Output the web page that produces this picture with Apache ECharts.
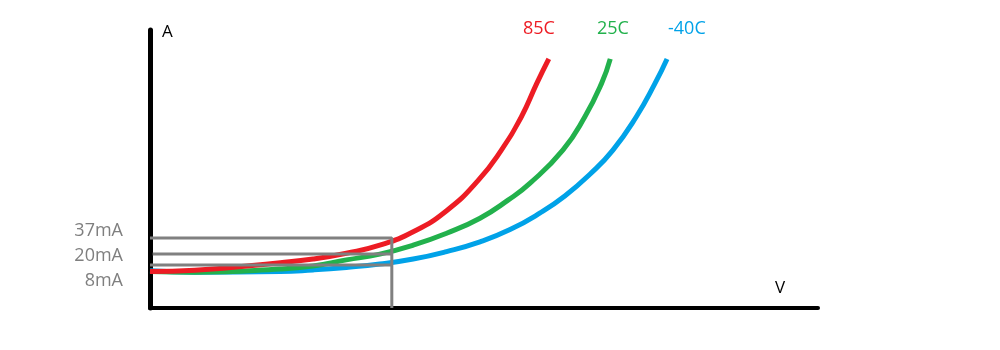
<!DOCTYPE html>
<html>
<head>
<meta charset="utf-8">
<script src="https://cdn.jsdelivr.net/npm/echarts@6/dist/echarts.min.js"></script>
<style>
html,body{margin:0;padding:0;background:#fff;}
#chart{width:1000px;height:350px;}
</style>
</head>
<body>
<div id="chart"></div>
<script>
// Curve data (V and A in arbitrary units 0-100, schematic chart)
const redV   = [0, 6.7, 19.5, 24.4, 29.4, 34.4, 39.4, 44.4, 49.1, 52.6, 55.6, 57.9, 59.7];
const redA   = [13.1, 13.6, 16.3, 17.6, 19.7, 22.6, 27.4, 35.0, 45.8, 56.8, 68.8, 80.8, 89.6];
const greenV = [0, 6.7, 19.5, 24.4, 29.4, 34.4, 39.4, 44.4, 49.4, 53.6, 56.9, 61.8, 65.1, 67.6, 68.9];
const greenA = [13.1, 12.9, 14.0, 15.1, 17.3, 19.4, 22.6, 26.9, 32.3, 38.8, 44.9, 56.8, 68.8, 80.8, 89.6];
const blueV  = [0, 6.7, 19.5, 24.4, 29.4, 34.4, 39.4, 44.4, 49.4, 53.9, 58.4, 62.1, 65.9, 69.3, 72.8, 75.6, 77.4];
const blueA  = [13.4, 12.9, 13.1, 13.7, 14.6, 15.8, 17.6, 20.3, 23.8, 28.2, 34.2, 40.3, 48.2, 56.8, 68.8, 80.8, 89.6];

const seriesNames = ['85C', '25C', '-40C'];
const seriesColors = ['#ED1C24', '#22B14C', '#00A2E8'];

// Reference (operating point) levels
const refLabels = ['37mA', '20mA', '8mA'];
const refLevels = [25.2, 19.4, 15.5];
const refStartV = [0, 0.4, 0];
const refV = 36.2;

const zip = (xs, ys) => xs.map((x, i) => [x, ys[i]]);

const curveSeries = [
  {name: '-40C', v: blueV, a: blueA, c: seriesColors[2]},
  {name: '25C', v: greenV, a: greenA, c: seriesColors[1]},
  {name: '85C', v: redV, a: redA, c: seriesColors[0]}
].map(s => ({
  name: s.name, type: 'line', data: zip(s.v, s.a), smooth: 0.5,
  symbol: 'none', lineStyle: {color: s.c, width: 5}, z: 3, clip: false
}));

const refSeries = refLevels.map((lv, i) => ({
  name: refLabels[i], type: 'line', symbol: 'none', z: 4, clip: false,
  data: i === 0 ? [[refStartV[i], lv], [refV, lv], [refV, 0]] : [[refStartV[i], lv], [refV, lv]],
  lineStyle: {color: '#808080', width: 3}
}));

const font = '"Open Sans", "Noto Sans", sans-serif';

const chart = echarts.init(document.getElementById('chart'), null, {renderer: 'canvas'});
chart.setOption({
  animation: false,
  backgroundColor: '#ffffff',
  grid: {left: 150, right: 182, top: 30, bottom: 42},
  xAxis: {
    type: 'value', min: 0, max: 100,
    axisLine: {show: true, lineStyle: {color: '#000', width: 4}},
    axisTick: {show: false}, axisLabel: {show: false}, splitLine: {show: false}
  },
  yAxis: {
    type: 'value', min: 0, max: 100,
    axisLine: {show: true, lineStyle: {color: '#000', width: 5}},
    axisTick: {show: false}, axisLabel: {show: false}, splitLine: {show: false}
  },
  series: curveSeries.concat(refSeries),
  graphic: [
    {type: 'text', x: 162, y: 32, style: {text: 'A', fill: '#000', font: '17px ' + font, textVerticalAlign: 'middle'}},
    {type: 'text', x: 775, y: 288, style: {text: 'V', fill: '#000', font: '17px ' + font, textVerticalAlign: 'middle'}},
    {type: 'text', x: 523, y: 29, style: {text: seriesNames[0], fill: seriesColors[0], font: '18px ' + font, textVerticalAlign: 'middle'}},
    {type: 'text', x: 597, y: 29, style: {text: seriesNames[1], fill: seriesColors[1], font: '18px ' + font, textVerticalAlign: 'middle'}},
    {type: 'text', x: 668, y: 29, style: {text: seriesNames[2], fill: seriesColors[2], font: '18px ' + font, textVerticalAlign: 'middle'}},
    {type: 'text', x: 123, y: 231, style: {text: refLabels[0], fill: '#7f7f7f', font: '18px ' + font, textAlign: 'right', textVerticalAlign: 'middle'}},
    {type: 'text', x: 123, y: 256, style: {text: refLabels[1], fill: '#7f7f7f', font: '18px ' + font, textAlign: 'right', textVerticalAlign: 'middle'}},
    {type: 'text', x: 123, y: 281, style: {text: refLabels[2], fill: '#7f7f7f', font: '18px ' + font, textAlign: 'right', textVerticalAlign: 'middle'}}
  ]
});
</script>
</body>
</html>
